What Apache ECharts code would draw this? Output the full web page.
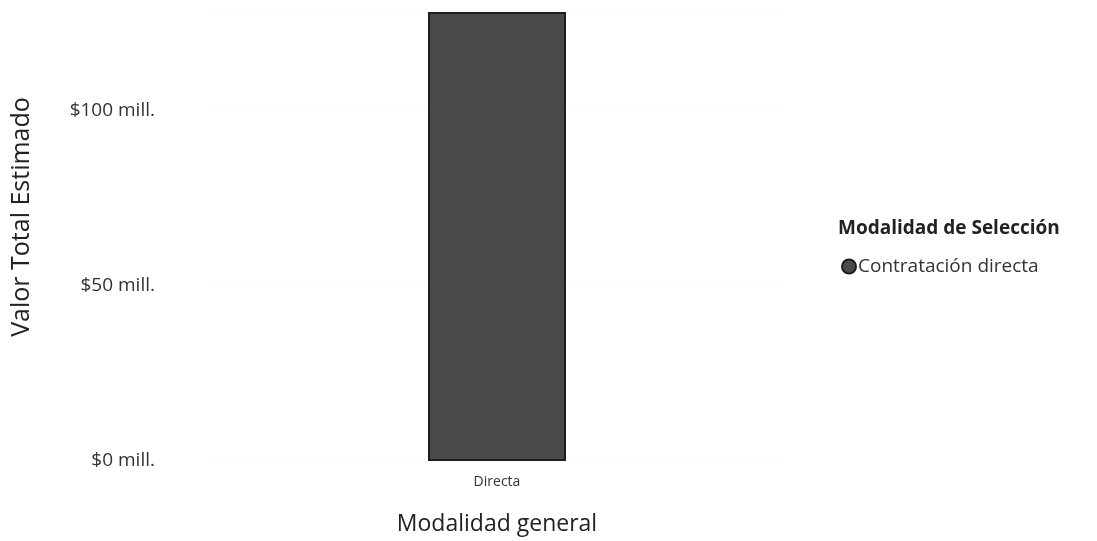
<!DOCTYPE html>
<html>
<head>
<meta charset="utf-8">
<script src="https://cdn.jsdelivr.net/npm/echarts@6/dist/echarts.min.js"></script>
<style>
  html, body { margin: 0; padding: 0; background: #fff; }
  #chart { width: 1097px; height: 541px; }
</style>
</head>
<body>
<div id="chart"></div>
<script>
const categories = ["Directa"];
const seriesName = "Contratación directa";
const values = [128];
const yTicks = [0, 50, 100];

const font = "'Open Sans', 'Noto Sans', sans-serif";
const chart = echarts.init(document.getElementById("chart"));

chart.setOption({
  animation: false,
  grid: { left: 212, right: 315, top: 12, bottom: 80 },
  title: {
    text: "Modalidad de Selección",
    left: 833,
    top: 214,
    textStyle: { fontFamily: font, fontSize: 19, fontWeight: "bold", color: "#222", letterSpacing: 0.8 }
  },
  legend: {
    data: [seriesName],
    orient: "vertical",
    left: 836,
    top: 252,
    icon: "circle",
    itemWidth: 14,
    itemHeight: 14,
    textStyle: { fontFamily: font, fontSize: 19, color: "#333", letterSpacing: 0.8, padding: [0, 0, 0, -3] }
  },
  xAxis: {
    type: "category",
    data: categories,
    name: "Modalidad general",
    nameLocation: "middle",
    nameGap: 52,
    nameTextStyle: { fontFamily: font, fontSize: 23, color: "#222" },
    axisLine: { show: false },
    axisTick: { show: false },
    axisLabel: { fontFamily: font, fontSize: 14, color: "#333", margin: 14, letterSpacing: 2.5 }
  },
  yAxis: {
    type: "value",
    min: 0,
    max: 128,
    interval: 50,
    axisLine: { show: false },
    axisTick: { show: false },
    splitLine: { lineStyle: { color: "#f6f6f6", type: "dotted" } },
    axisLabel: {
      fontFamily: font,
      fontSize: 19,
      color: "#333",
      margin: 57,
      letterSpacing: 1,
      showMaxLabel: false,
      formatter: v => yTicks.includes(v) ? "$" + v + " mill." : ""
    }
  },
  graphic: [{
    type: "text",
    x: 22,
    y: 217,
    rotation: Math.PI / 2,
    style: {
      text: "Valor Total Estimado",
      fontFamily: font,
      fontSize: 25,
      fill: "#222",
      align: "center",
      verticalAlign: "middle"
    }
  }],
  series: [{
    name: seriesName,
    type: "bar",
    data: values,
    barWidth: 138,
    itemStyle: { color: "#4a4a4a", borderColor: "#1e1e1e", borderWidth: 2 }
  }]
});
</script>
</body>
</html>
